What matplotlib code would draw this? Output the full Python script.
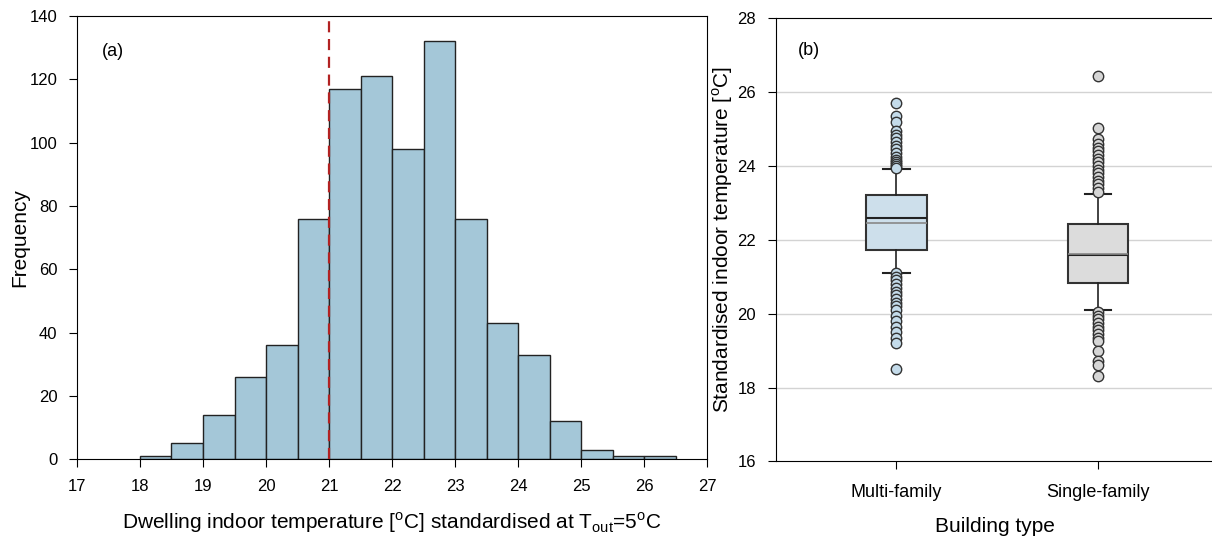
import matplotlib.pyplot as plt

plt.rcParams['font.family'] = ['Liberation Sans', 'DejaVu Sans']
plt.rcParams['mathtext.fontset'] = 'custom'
plt.rcParams['mathtext.rm'] = 'Liberation Sans'

# (a) histogram of standardised indoor temperature
bin_starts = [18.0, 18.5, 19.0, 19.5, 20.0, 20.5, 21.0, 21.5, 22.0,
              22.5, 23.0, 23.5, 24.0, 24.5, 25.0, 25.5, 26.0]
counts = [1, 5, 14, 26, 36, 76, 117, 121, 98, 132, 76, 43, 33, 12, 3, 1, 1]
ref_temp = 21

# (b) box plot per building type
building_types = ['Multi-family', 'Single-family']
q1 = [21.73, 20.82]
q3 = [23.22, 22.42]
medians = [22.60, 21.58]
means = [22.47, 21.63]
whisk_lo = [21.09, 20.09]
whisk_hi = [23.93, 23.24]
fliers_multi = [25.70, 25.35, 25.20, 24.95, 24.85, 24.75, 24.65, 24.55, 24.45,
                24.35, 24.25, 24.15, 24.10, 24.05, 24.00, 23.95,
                21.10, 21.00, 20.90, 20.80, 20.70, 20.60, 20.50, 20.40, 20.30,
                20.20, 20.10, 19.95, 19.80, 19.65, 19.50, 19.35, 19.20, 18.50]
fliers_single = [26.44, 25.04, 24.72, 24.60, 24.50, 24.40, 24.30, 24.20, 24.10,
                 24.00, 23.90, 23.80, 23.70, 23.60, 23.50, 23.40, 23.30,
                 20.05, 19.95, 19.85, 19.75, 19.65, 19.55, 19.45, 19.35, 19.25,
                 19.00, 18.72, 18.60, 18.30]
box_colors = ['#cddfeb', '#dcdcdc']
flier_colors = ['#c4dbea', '#d6d6d6']

fig = plt.figure(figsize=(12.12, 5.39), dpi=100)
ax1 = fig.add_axes([0.0635, 0.148, 0.520, 0.822])
ax2 = fig.add_axes([0.640, 0.144, 0.362, 0.822])

# ---- left panel
ax1.bar(bin_starts, counts, width=0.5, align='edge', color='#a4c7d8',
        edgecolor='#222222', linewidth=1.0, zorder=2)
ax1.axvline(ref_temp, color='#b22222', linestyle=(0, (5, 3)), linewidth=1.6, zorder=3)
ax1.set_xlim(17, 27)
ax1.set_ylim(0, 140)
ax1.set_xticks(range(17, 28))
ax1.set_yticks(range(0, 141, 20))
ax1.tick_params(direction='out', length=6, labelsize=12, pad=8)
ax1.set_ylabel('Frequency', fontsize=15, labelpad=0)
ax1.set_xlabel('Dwelling indoor temperature [$^{\\mathrm{o}}$C] standardised at '
               'T$_{\\mathrm{out}}$=5$^{\\mathrm{o}}$C', fontsize=15, labelpad=12)
ax1.text(0.04, 0.92, '(a)', transform=ax1.transAxes, fontsize=13, va='center')

# ---- right panel
stats = []
for i, name in enumerate(building_types):
    stats.append({'label': name, 'q1': q1[i], 'q3': q3[i], 'med': medians[i],
                  'mean': means[i], 'whislo': whisk_lo[i], 'whishi': whisk_hi[i],
                  'fliers': [fliers_multi, fliers_single][i]})

bp = ax2.bxp(stats, positions=[1, 2], widths=0.3, capwidths=0.13,
             patch_artist=True, showmeans=True, meanline=True,
             medianprops=dict(color='#222222', linewidth=1.5),
             meanprops=dict(color='#888888', linestyle='-', linewidth=1.2),
             whiskerprops=dict(color='#222222', linewidth=1.2),
             capprops=dict(color='#222222', linewidth=1.5),
             boxprops=dict(edgecolor='#333333', linewidth=1.5))
for patch, c in zip(bp['boxes'], box_colors):
    patch.set_facecolor(c)
for fl, c in zip(bp['fliers'], flier_colors):
    fl.set(marker='o', markersize=7.5, markerfacecolor=c,
           markeredgecolor='#333333', markeredgewidth=1.0)
for artist in bp['boxes'] + bp['medians'] + bp['means'] + bp['whiskers'] + bp['caps'] + bp['fliers']:
    artist.set_zorder(3)

ax2.set_xlim(0.4, 2.58)
ax2.set_ylim(16, 28)
ax2.set_yticks(range(16, 29, 2))
for g in range(18, 27, 2):
    ax2.axhline(g, color='#d3d3d3', linewidth=1.0, zorder=1)
ax2.spines['right'].set_visible(False)
ax2.tick_params(direction='out', length=6, labelsize=12, pad=8)
ax2.tick_params(axis='x', labelsize=13, pad=10)
ax2.set_ylabel('Standardised indoor temperature [$^{\\mathrm{o}}$C]', fontsize=15, labelpad=2)
ax2.set_xlabel('Building type', fontsize=15, labelpad=12)
ax2.text(0.05, 0.928, '(b)', transform=ax2.transAxes, fontsize=13, va='center')

fig.savefig('out.png', dpi=100)
